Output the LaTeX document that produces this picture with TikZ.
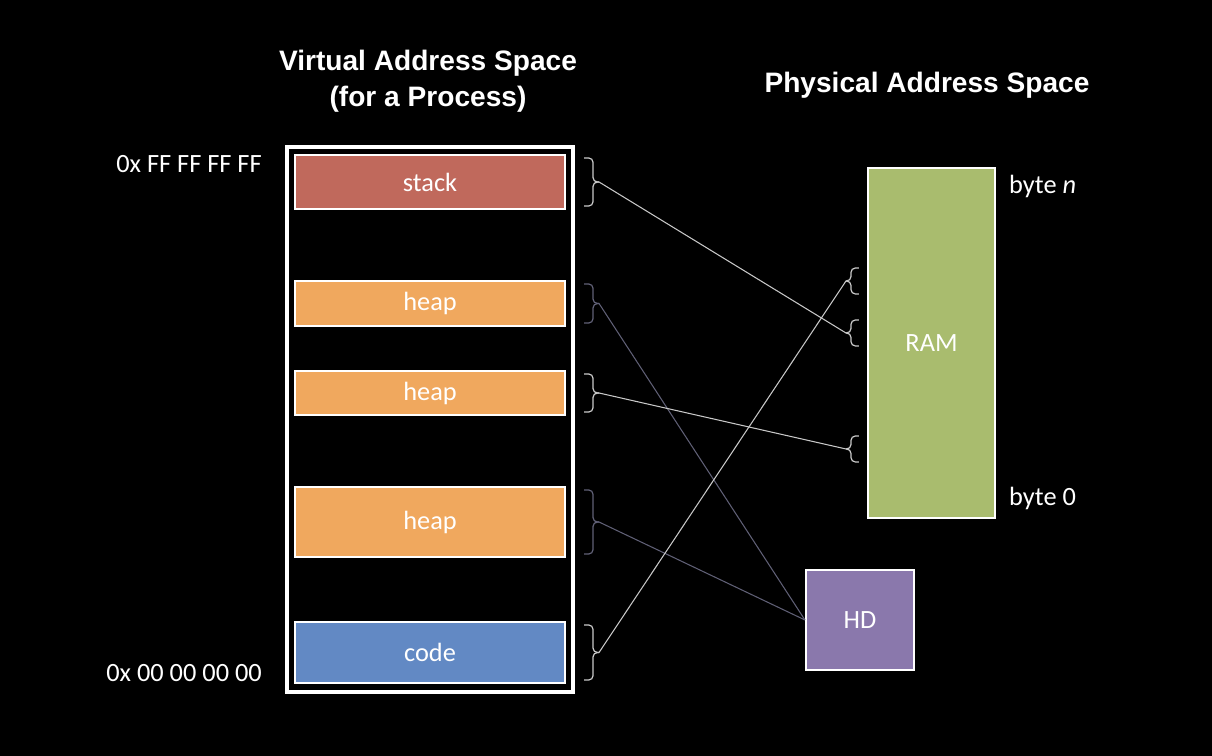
\documentclass[tikz,border=0pt]{standalone}
\usepackage{fontspec}
\setmainfont{Carlito}
\newfontfamily\titlefont{Liberation Sans}
\usetikzlibrary{calc, positioning}

\definecolor{stackred}{RGB}{192,105,92}
\definecolor{heaporange}{RGB}{240,168,94}
\definecolor{codeblue}{RGB}{98,137,196}
\definecolor{ramgreen}{RGB}{169,188,110}
\definecolor{hdpurple}{RGB}{138,120,172}
\definecolor{linklight}{RGB}{200,200,200}
\definecolor{linkdark}{RGB}{96,96,118}

\begin{document}
\begin{tikzpicture}[x=0.02cm, y=-0.02cm,
		seg/.style={draw=white, line width=1.2pt, text=white, minimum width=5.4cm,
			font=\fontsize{15}{18}\selectfont},
		lbl/.style={text=white, font=\fontsize{15}{18}\selectfont},
		ttl/.style={text=white, align=center, font=\titlefont\bfseries\fontsize{16}{20.5}\selectfont},
		brk/.style={rounded corners=2.5pt, line width=0.7pt},
		lnk/.style={line width=0.6pt}]
	\fill[black] (0,0) rectangle (1212,756);
	\useasboundingbox (0,0) rectangle (1212,756);

	\node[ttl] (vtitle) at (428,81) {Virtual Address Space\\(for a Process)};
	\node[ttl] (ptitle) at (927,85) {Physical Address Space};

	\begin{scope}
		\node[draw=white, line width=1.8pt, minimum width=5.72cm, minimum height=10.9cm] (vas) at (430,419.5) {};
		\node[seg, fill=stackred, minimum height=1.08cm] (stack) at (430,182) {stack};
		\node[seg, fill=heaporange, minimum height=0.9cm] (heap1) at (430,303.5) {heap};
		\node[seg, fill=heaporange, minimum height=0.88cm] (heap2) at (430,393) {heap};
		\node[seg, fill=heaporange, minimum height=1.4cm] (heap3) at (430,522) {heap};
		\node[seg, fill=codeblue, minimum height=1.22cm] (code) at (430,652.5) {code};

		\node[lbl, anchor=east] (hiaddr) at (268,164) {0x FF FF FF FF};
		\node[lbl, anchor=east] (loaddr) at (268,673) {0x 00 00 00 00};
	\end{scope}

	\begin{scope}
		\node[seg, fill=ramgreen, minimum width=2.54cm, minimum height=7cm] (ram) at (931.5,343) {RAM};
		\node[seg, fill=hdpurple, minimum width=2.16cm, minimum height=2cm] (hd) at (860,620) {HD};

		\node[lbl, anchor=west] (byten) at (1003,186) {byte \textit{n}};
		\node[lbl, anchor=west] (byte0) at (1003,498) {byte 0};
	\end{scope}

	\foreach \s/\c in {stack/linklight, heap1/linkdark, heap2/linklight, heap3/linkdark, code/linklight} {
		\coordinate (\s-tip) at ($(\s.east)+(33,0)$);
		\draw[brk, draw=\c] ($(\s.north east)+(18,4)$) -- ++(9,0) |- (\s-tip);
		\draw[brk, draw=\c] ($(\s.south east)+(18,-4)$) -- ++(9,0) |- (\s-tip);
	}

	\foreach \i/\y in {1/114, 2/166, 3/282} {
		\coordinate (ram-b\i) at ($(ram.north west)+(-21,\y)$);
		\draw[brk, draw=linklight] ($(ram.north west)+(-8,\y-13)$) -- ++(-8,0) |- (ram-b\i);
		\draw[brk, draw=linklight] ($(ram.north west)+(-8,\y+13)$) -- ++(-8,0) |- (ram-b\i);
	}

	\begin{scope}[lnk]
		\draw[linklight] (stack-tip) -- (ram-b2);
		\draw[linkdark] (heap1-tip) -- (hd.west);
		\draw[linklight] (heap2-tip) -- (ram-b3);
		\draw[linkdark] (heap3-tip) -- (hd.west);
		\draw[linklight] (code-tip) -- (ram-b1);
	\end{scope}
\end{tikzpicture}
\end{document}
